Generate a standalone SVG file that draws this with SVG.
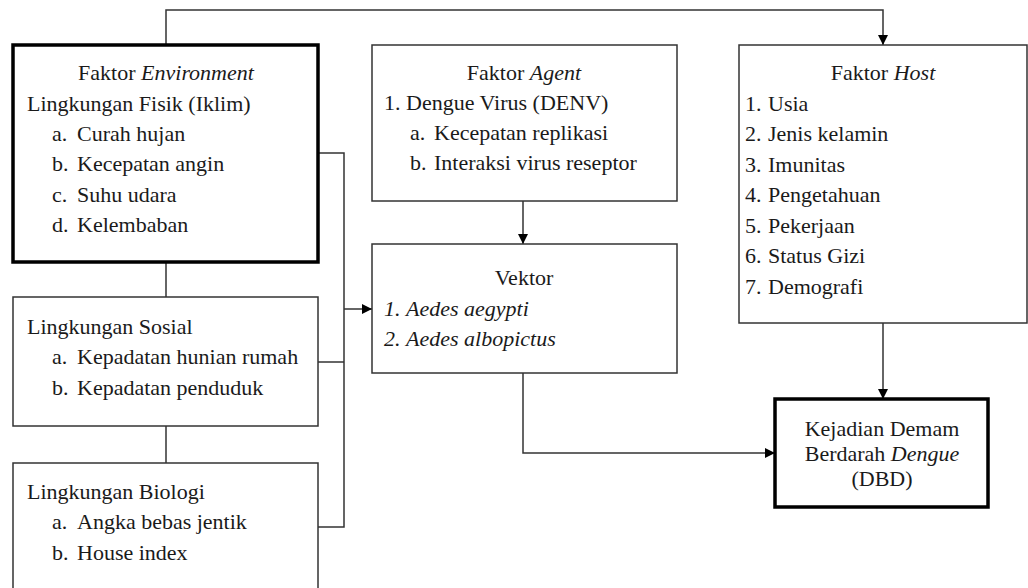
<svg xmlns="http://www.w3.org/2000/svg" width="1028" height="588" viewBox="0 0 1028 588">
<style>
.box{fill:#fff;stroke:#333;stroke-width:1.5}
.thick{fill:#fff;stroke:#000;stroke-width:3.5}
.t{font-family:"Liberation Serif","Times New Roman",serif;font-size:22px;fill:#1a1a1a}
.c{text-anchor:middle}
.i{font-style:italic}
.ln{fill:none;stroke:#333;stroke-width:1.5}
</style>
<defs>
<marker id="ah" viewBox="0 0 10 10" refX="10" refY="5" markerWidth="10" markerHeight="10" markerUnits="userSpaceOnUse" orient="auto">
<path d="M0,0 L10,5 L0,10 Z" fill="#000"/>
</marker>
</defs>
<g id="connectors">
<path class="ln" d="M166,45 V10 H883 V45" marker-end="url(#ah)"/>
<path class="ln" d="M166,262 V297"/>
<path class="ln" d="M166,426 V463"/>
<path class="ln" d="M318,153 H344 V527 H318"/>
<path class="ln" d="M318,362 H344"/>
<path class="ln" d="M344,309 H372" marker-end="url(#ah)"/>
<path class="ln" d="M523,201 V244" marker-end="url(#ah)"/>
<path class="ln" d="M523,373 V453 H775" marker-end="url(#ah)"/>
<path class="ln" d="M883,323 V399" marker-end="url(#ah)"/>
</g>
<g id="env">
<rect class="thick" x="13" y="45" width="305" height="217"/>
<text class="t c" x="166" y="80">Faktor <tspan class="i">Environment</tspan></text>
<text class="t" x="27" y="111">Lingkungan Fisik (Iklim)</text>
<text class="t" x="52" y="141">a.</text><text class="t" x="77" y="141">Curah hujan</text>
<text class="t" x="52" y="171">b.</text><text class="t" x="77" y="171">Kecepatan angin</text>
<text class="t" x="52" y="202">c.</text><text class="t" x="77" y="202">Suhu udara</text>
<text class="t" x="52" y="232">d.</text><text class="t" x="77" y="232">Kelembaban</text>
</g>
<g id="sosial">
<rect class="box" x="13" y="297" width="305" height="129"/>
<text class="t" x="27" y="334">Lingkungan Sosial</text>
<text class="t" x="52" y="364">a.</text><text class="t" x="77" y="364">Kepadatan hunian rumah</text>
<text class="t" x="52" y="395">b.</text><text class="t" x="77" y="395">Kepadatan penduduk</text>
</g>
<g id="biologi">
<rect class="box" x="13" y="463" width="305" height="128"/>
<text class="t" x="27" y="499">Lingkungan Biologi</text>
<text class="t" x="52" y="529">a.</text><text class="t" x="77" y="529">Angka bebas jentik</text>
<text class="t" x="52" y="560">b.</text><text class="t" x="77" y="560">House index</text>
</g>
<g id="agent">
<rect class="box" x="372" y="45" width="305" height="156"/>
<text class="t c" x="524" y="80">Faktor <tspan class="i">Agent</tspan></text>
<text class="t" x="384" y="110">1.</text><text class="t" x="406" y="110">Dengue Virus (DENV)</text>
<text class="t" x="410" y="140">a.</text><text class="t" x="434" y="140">Kecepatan replikasi</text>
<text class="t" x="410" y="170">b.</text><text class="t" x="434" y="170">Interaksi virus reseptor</text>
</g>
<g id="vektor">
<rect class="box" x="372" y="244" width="305" height="129"/>
<text class="t c" x="524" y="285">Vektor</text>
<text class="t i" x="384" y="316">1.</text><text class="t i" x="406" y="316">Aedes aegypti</text>
<text class="t i" x="384" y="346">2.</text><text class="t i" x="406" y="346">Aedes albopictus</text>
</g>
<g id="host">
<rect class="box" x="739" y="45" width="288" height="278"/>
<text class="t c" x="883" y="80">Faktor <tspan class="i">Host</tspan></text>
<text class="t" x="745" y="111">1.</text><text class="t" x="768" y="111">Usia</text>
<text class="t" x="745" y="141">2.</text><text class="t" x="768" y="141">Jenis kelamin</text>
<text class="t" x="745" y="172">3.</text><text class="t" x="768" y="172">Imunitas</text>
<text class="t" x="745" y="202">4.</text><text class="t" x="768" y="202">Pengetahuan</text>
<text class="t" x="745" y="233">5.</text><text class="t" x="768" y="233">Pekerjaan</text>
<text class="t" x="745" y="263">6.</text><text class="t" x="768" y="263">Status Gizi</text>
<text class="t" x="745" y="294">7.</text><text class="t" x="768" y="294">Demografi</text>
</g>
<g id="dbd">
<rect class="thick" x="775" y="399" width="213" height="108"/>
<text class="t c" x="882" y="436">Kejadian Demam</text>
<text class="t c" x="882" y="461">Berdarah <tspan class="i">Dengue</tspan></text>
<text class="t c" x="882" y="486">(DBD)</text>
</g>
</svg>
